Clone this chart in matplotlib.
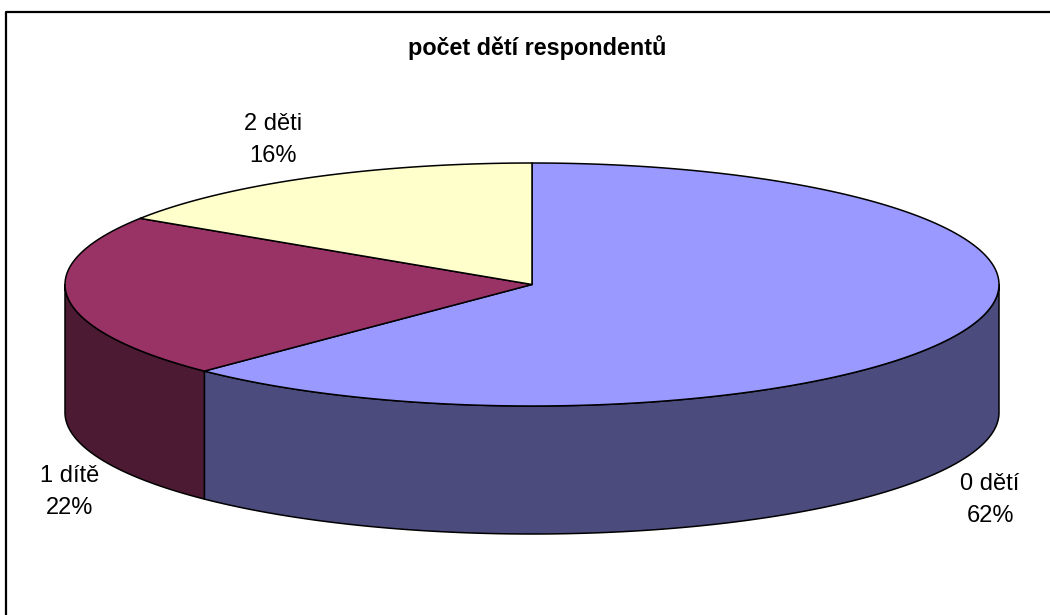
import numpy as np
import matplotlib.pyplot as plt
from matplotlib.patches import Polygon

# data
categories = ["0 dětí", "1 dítě", "2 děti"]
counts = [63, 22, 16]
percent_labels = ["62%", "22%", "16%"]

top_colors = ["#9999FF", "#993366", "#FFFFCC"]
side_colors = ["#4B4B7E", "#4C1A33", "#80806A"]

plt.rcParams['font.family'] = ['Liberation Sans', 'DejaVu Sans']

fig = plt.figure(figsize=(10.5, 6.15), dpi=100)
ax = fig.add_axes([0, 0, 1, 1])
ax.set_xlim(0, 1050)
ax.set_ylim(615, 0)
ax.axis('off')

# pie geometry (pixels)
cx, cy = 532, 284.5
rx, ry = 467, 121.5
depth = 128


def rim(t):
    return cx + rx * np.cos(t), cy - ry * np.sin(t)


fracs = np.array(counts) / np.sum(counts)
edges = np.pi / 2 - 2 * np.pi * np.concatenate([[0], np.cumsum(fracs)])

# side walls (front half only: angles between -pi and 0)
for i in range(len(counts)):
    t0, t1 = edges[i + 1], edges[i]   # t0 < t1
    for shift in (0, -2 * np.pi, 2 * np.pi):
        lo = max(t0 + shift, -np.pi)
        hi = min(t1 + shift, 0)
        if hi <= lo:
            continue
        t = np.linspace(lo, hi, 200)
        x, y = rim(t)
        pts = np.vstack([np.column_stack([x, y]),
                         np.column_stack([x[::-1], y[::-1] + depth])])
        ax.add_patch(Polygon(pts, closed=True, facecolor=side_colors[i],
                             edgecolor='black', lw=1.1, joinstyle='round'))

# top faces
for i in range(len(counts)):
    t = np.linspace(edges[i], edges[i + 1], 300)
    x, y = rim(t)
    pts = np.vstack([[cx, cy], np.column_stack([x, y])])
    ax.add_patch(Polygon(pts, closed=True, facecolor=top_colors[i],
                         edgecolor='black', lw=1.1, joinstyle='round'))

# labels
label_pos = [(990, 500), (70, 492), (273, 140)]
for i, (lx, ly) in enumerate(label_pos):
    ax.text(lx, ly, categories[i] + "\n" + percent_labels[i], ha='center', va='center',
            multialignment='center', fontsize=17, linespacing=1.55, color='black')

ax.text(537, 48, "počet dětí respondentů", ha='center', va='center',
        fontsize=16.8, fontweight='bold')

# chart frame (only left and top visible)
ax.plot([6, 6, 1050], [615, 12, 12], color='black', lw=1.6)

fig.savefig("out.png", dpi=100)
